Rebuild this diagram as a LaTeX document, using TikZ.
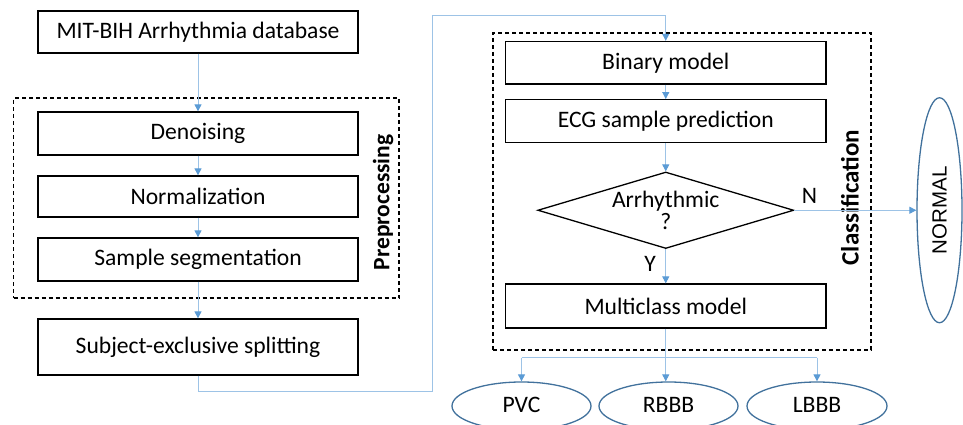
\documentclass[tikz,border=0pt]{standalone}
\usepackage{fontspec}
\setmainfont{Carlito}
\newfontfamily\arialfont{Liberation Sans}
\usetikzlibrary{arrows.meta,shapes.geometric}
\definecolor{lineblue}{HTML}{9DC3E6}
\definecolor{tipblue}{HTML}{5B9BD5}
\definecolor{ellblue}{HTML}{41719C}
\begin{document}
\begin{tikzpicture}[x=1pt,y=-1pt,
  txt/.style={font=\fontsize{23.6}{24}\selectfont},
  procbox/.style={draw=black,line width=1.3pt,minimum width=320pt,inner sep=0pt,txt},
  dashbox/.style={draw=black,line width=1.2pt,dash pattern=on 4pt off 3pt,inner sep=0pt},
  conn/.style={draw=lineblue,line width=1pt,-{Triangle[color=tipblue,width=7pt,length=7pt]}},
  plain/.style={draw=lineblue,line width=1pt},
  outell/.style={ellipse,draw=ellblue,line width=1.3pt,inner sep=0pt,txt},
  sidelabel/.style={font=\fontsize{23.5}{25}\selectfont\bfseries,rotate=90}
]
\useasboundingbox (0,0) rectangle (963,425);
% dashed groups
\node[dashbox,minimum width=385.5pt,minimum height=200pt] (pre) at (206.25,198) {};
\node[dashbox,minimum width=378pt,minimum height=317pt] (cls) at (682,191.5) {};
% left column
\node[procbox,minimum height=42pt] (mit) at (198,32) {MIT-BIH Arrhythmia database};
\node[procbox,minimum height=43pt] (den) at (198,133.5) {Denoising};
\node[procbox,minimum height=41pt] (nor) at (198,196.5) {Normalization};
\node[procbox,minimum height=43pt] (seg) at (198,259.5) {Sample segmentation};
\node[procbox,minimum height=56pt] (sub) at (198,347) {Subject-exclusive splitting};
% right column
\node[procbox,minimum width=320.5pt,minimum height=42.5pt] (bin) at (665.75,62.75) {Binary model};
\node[procbox,minimum width=320.5pt,minimum height=42.6pt] (ecg) at (665.75,121) {ECG sample prediction};
\node[diamond,draw=black,line width=1.3pt,minimum width=256pt,minimum height=76.5pt,inner sep=0pt] (dec) at (665.75,210.25) {};
\node[align=center,font=\fontsize{23.6}{22}\selectfont] (dectext) at (665.75,210) {Arrhythmic\\?};
\node[procbox,minimum width=320.5pt,minimum height=44pt] (mc) at (665.75,306) {Multiclass model};
% outputs
\node[outell,minimum width=45pt,minimum height=225pt] (normal) at (939.5,210.25) {\rotatebox{90}{\arialfont\fontsize{20.5}{22}\selectfont NORMAL}};
\node[outell,minimum width=139pt,minimum height=48pt] (pvc) at (521.5,406) {\raisebox{3pt}{PVC}};
\node[outell,minimum width=139pt,minimum height=48pt] (rbbb) at (668.5,406) {\raisebox{3pt}{RBBB}};
\node[outell,minimum width=140pt,minimum height=48pt] (lbbb) at (817,406) {\raisebox{3pt}{LBBB}};
% side labels
\node[sidelabel] (prelab) at (383,202.5) {Preprocessing};
\node[sidelabel,font=\fontsize{25}{26}\selectfont\bfseries] (clslab) at (850,197.5) {Classification};
% connectors
\draw[conn] (mit.south) -- (den.north);
\draw[conn] (den.south) -- (nor.north);
\draw[conn] (nor.south) -- (seg.north);
\draw[conn] (seg.south) -- (sub.north);
\coordinate (c1) at (432.5,391);
\coordinate (c2) at (432.5,16);
\draw[conn] (sub.south) |- (c1) -- (c2) -| (bin.north);
\draw[conn] (bin.south) -- (ecg.north);
\draw[conn] (ecg.south) -- (dec.north);
\draw[conn] (dec.south) -- (mc.north);
\draw[conn] (dec.east) -- (dec.east -| normal.west);
\node[txt] (nlab) at (809.5,196) {N};
\node[txt] (ylab) at (650,264) {Y};
\coordinate (sp) at (665.75,357.5);
\draw[conn] (mc.south) -- (mc.south |- rbbb.north);
\draw[plain] (pvc.north |- sp) -- (lbbb.north |- sp);
\draw[conn] (pvc.north |- sp) -- (pvc.north);
\draw[conn] (lbbb.north |- sp) -- (lbbb.north);
\end{tikzpicture}
\end{document}
